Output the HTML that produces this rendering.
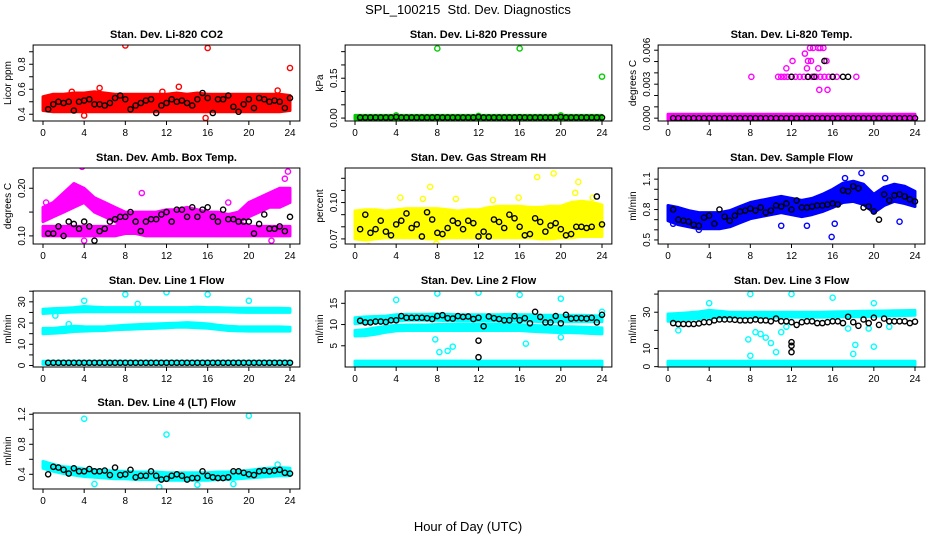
<!DOCTYPE html>
<html><head><meta charset="utf-8">
<style>
html,body{margin:0;padding:0;background:#fff;}
svg{display:block;font-family:"Liberation Sans",Arial,sans-serif;}
</style></head>
<body>
<svg id="chart" width="936" height="540" viewBox="0 0 936 540" xmlns="http://www.w3.org/2000/svg">
<rect x="0" y="0" width="936" height="540" fill="#fff"/>
<text x="468" y="14" font-size="13" text-anchor="middle">SPL_100215&#160; Std. Dev. Diagnostics</text>
<text x="468" y="531" font-size="13" text-anchor="middle">Hour of Day (UTC)</text>
<g id="panels"></g>
</svg>
<script>
// ---- shared data ----
const hourly = [0,1,2,3,4,5,6,7,8,9,10,11,12,13,14,15,16,17,18,19,20,21,22,23,24];
const halfHours = [0.5,1,1.5,2,2.5,3,3.5,4,4.5,5,5.5,6,6.5,7,7.5,8,8.5,9,9.5,10,10.5,11,11.5,12,12.5,13,13.5,14,14.5,15,15.5,16,16.5,17,17.5,18,18.5,19,19.5,20,20.5,21,21.5,22,22.5,23,23.5,24];
const xTicks = [0,4,8,12,16,20,24];

// Panel 1: CO2
const co2Low  = [0.43,0.42,0.42,0.42,0.42,0.42,0.42,0.42,0.42,0.42,0.42,0.42,0.42,0.42,0.42,0.42,0.42,0.42,0.42,0.42,0.42,0.42,0.42,0.42,0.43];
const co2High = [0.54,0.56,0.56,0.57,0.57,0.58,0.57,0.56,0.56,0.56,0.56,0.56,0.56,0.57,0.56,0.57,0.56,0.56,0.56,0.56,0.56,0.56,0.56,0.56,0.55];
const co2OutH = [8,16,24,13.2,5.5,15.8,4,2.8,11.6,22.8];
const co2OutV = [0.95,0.93,0.77,0.62,0.61,0.37,0.39,0.58,0.58,0.59];
const co2Black = [0.44,0.48,0.5,0.49,0.5,0.43,0.5,0.51,0.52,0.48,0.48,0.47,0.49,0.53,0.55,0.52,0.44,0.47,0.49,0.51,0.52,0.41,0.47,0.49,0.52,0.5,0.51,0.49,0.47,0.52,0.57,0.53,0.41,0.52,0.52,0.55,0.46,0.42,0.48,0.52,0.45,0.53,0.52,0.5,0.51,0.5,0.45,0.53];

// Panel 2: Pressure
const presLow  = [-0.004,-0.004,-0.004,-0.004,-0.004,-0.004,-0.004,-0.004,-0.004,-0.004,-0.004,-0.004,-0.004,-0.004,-0.004,-0.004,-0.004,-0.004,-0.004,-0.004,-0.004,-0.004,-0.004,-0.004,-0.004];
const presHigh = [0.01,0.01,0.01,0.01,0.01,0.01,0.01,0.01,0.01,0.01,0.01,0.01,0.01,0.01,0.01,0.01,0.01,0.01,0.01,0.01,0.01,0.01,0.01,0.01,0.01];
const presOutH = [8,16,24,4,12,20];
const presOutV = [0.262,0.262,0.156,0.01,0.008,0.01];
const presBlack = [0.002,0.002,0.002,0.002,0.002,0.002,0.002,0.004,0.002,0.002,0.002,0.002,0.002,0.002,0.002,0.003,0.002,0.002,0.002,0.002,0.002,0.002,0.002,0.004,0.002,0.002,0.002,0.002,0.002,0.002,0.002,0.003,0.002,0.002,0.002,0.002,0.002,0.002,0.002,0.004,0.002,0.002,0.002,0.002,0.002,0.002,0.002,0.002];

// Panel 3: Li-820 Temp
const tempLow  = [-0.00035,-0.00035,-0.00035,-0.00035,-0.00035,-0.00035,-0.00035,-0.00035,-0.00035,-0.00035,-0.00035,-0.00035,-0.00035,-0.00035,-0.00035,-0.00035,-0.00035,-0.00035,-0.00035,-0.00035,-0.00035,-0.00035,-0.00035,-0.00035,-0.00035];
const tempHigh = [0.00035,0.00035,0.00035,0.00035,0.00035,0.00035,0.00035,0.00035,0.00035,0.00035,0.00035,0.00035,0.00035,0.00035,0.00035,0.00035,0.00035,0.00035,0.00035,0.00035,0.00035,0.00035,0.00035,0.00035,0.00035];
const tempOutH = [8.1,10.7,11,11.3,11.6,12,12.4,12.8,13.2,13.6,14,14.4,14.8,15.2,15.6,16,16.4,18.3,11.5,12.1,13.6,13.9,15.4,13.8,14.1,14.6,14.8,15.1,13.3,13.5,14.6,14.7,15.5];
const tempOutV = [0.00365,0.00365,0.00365,0.00365,0.00365,0.00365,0.00365,0.00365,0.00365,0.00365,0.00365,0.00365,0.00365,0.00365,0.00365,0.00365,0.00365,0.00365,0.0044,0.00505,0.00505,0.00505,0.00505,0.0062,0.0062,0.0062,0.0062,0.0062,0.0057,0.0044,0.0044,0.0025,0.0025];
const tempBlackH = [12,13.6,14.2,16,17,17.5,15.2];
const tempBlackV = [0.00365,0.00365,0.00365,0.00365,0.00365,0.00365,0.00505];
const tempBlack = [0,0,0,0,0,0,0,0,0,0,0,0,0,0,0,0,0,0,0,0,0,0,0,0,0,0,0,0,0,0,0,0,0,0,0,0,0,0,0,0,0,0,0,0,0,0,0,0];

// Panel 4: Amb Box Temp
const ambLowA  = [0.13,0.14,0.15,0.16,0.17,0.15,0.14,0.13,0.12,0.12,0.12,0.12,0.12,0.12,0.12,0.12,0.12,0.12,0.12,0.13,0.14,0.15,0.16,0.16,0.17];
const ambHighA = [0.16,0.17,0.19,0.21,0.2,0.18,0.17,0.16,0.15,0.15,0.15,0.15,0.155,0.155,0.16,0.155,0.15,0.15,0.145,0.15,0.17,0.18,0.19,0.2,0.2];
const ambLowB  = [0.10,0.10,0.10,0.10,0.10,0.10,0.10,0.10,0.105,0.105,0.10,0.10,0.10,0.10,0.10,0.10,0.10,0.10,0.10,0.10,0.10,0.10,0.10,0.10,0.10];
const ambHighB = [0.12,0.12,0.12,0.12,0.12,0.12,0.12,0.12,0.13,0.13,0.13,0.13,0.13,0.13,0.13,0.13,0.13,0.13,0.13,0.13,0.12,0.12,0.12,0.12,0.12];
const ambOutH = [3.8,9.6,23.8,4,22.2,0.3,1.8,18,23.5];
const ambOutV = [0.245,0.19,0.235,0.09,0.09,0.17,0.18,0.17,0.22];
const ambBlack = [0.105,0.105,0.12,0.10,0.13,0.125,0.115,0.13,0.12,0.09,0.11,0.115,0.13,0.135,0.14,0.14,0.15,0.13,0.11,0.13,0.135,0.135,0.145,0.15,0.13,0.155,0.155,0.14,0.16,0.14,0.155,0.16,0.14,0.13,0.155,0.135,0.135,0.13,0.13,0.13,0.105,0.125,0.145,0.115,0.115,0.12,0.11,0.14];

// Panel 5: Gas Stream RH
const rhLow  = [0.07,0.069,0.07,0.071,0.071,0.071,0.071,0.07,0.07,0.071,0.071,0.071,0.071,0.071,0.071,0.071,0.071,0.071,0.07,0.07,0.071,0.071,0.072,0.072,0.072];
const rhHigh = [0.093,0.094,0.094,0.093,0.094,0.095,0.095,0.095,0.095,0.094,0.093,0.094,0.094,0.096,0.097,0.097,0.097,0.096,0.096,0.097,0.097,0.1,0.101,0.1,0.098];
const rhOutH = [17.7,19.3,21.7,7.3,7.9,1.3,4.4,6.6,9.8,13.4,15.9,21.4,23.1];
const rhOutV = [0.121,0.124,0.117,0.113,0.066,0.064,0.104,0.103,0.103,0.102,0.104,0.108,0.104];
const rhBlack = [0.078,0.09,0.075,0.078,0.085,0.076,0.073,0.082,0.085,0.091,0.079,0.082,0.072,0.092,0.086,0.075,0.074,0.079,0.085,0.083,0.078,0.085,0.083,0.072,0.076,0.072,0.086,0.084,0.079,0.09,0.087,0.08,0.073,0.074,0.087,0.084,0.076,0.081,0.083,0.078,0.073,0.074,0.08,0.08,0.079,0.08,0.105,0.082];

// Panel 6: Sample Flow
const sfLow  = [0.69,0.65,0.63,0.61,0.61,0.61,0.63,0.67,0.71,0.73,0.75,0.77,0.75,0.73,0.75,0.78,0.82,0.87,0.88,0.85,0.77,0.84,0.88,0.86,0.83];
const sfHigh = [0.84,0.82,0.79,0.77,0.77,0.77,0.79,0.83,0.87,0.89,0.91,0.93,0.91,0.89,0.91,0.95,1.0,1.06,1.08,1.05,0.95,1.02,1.05,1.03,0.98];
const sfOutH = [15.9,18.8,21.1,17.2,3,11,13.5,0.5,16.2,22.5];
const sfOutV = [0.53,1.16,1.11,1.11,0.6,0.64,0.64,0.66,0.66,0.68];
const sfBlack = [0.8,0.7,0.69,0.68,0.65,0.64,0.72,0.74,0.66,0.8,0.73,0.69,0.74,0.78,0.79,0.81,0.79,0.82,0.77,0.79,0.84,0.83,0.86,0.8,0.89,0.82,0.82,0.83,0.84,0.84,0.85,0.86,0.85,0.99,0.98,1.03,1.01,0.82,0.83,0.78,0.7,0.95,0.89,0.94,0.95,0.93,0.9,0.88];

// Panel 7: Line 1 Flow
const l1LowA  = [24.5,24.8,25,25.2,25.3,25.3,25.3,25.3,25.3,25.3,25.3,25.3,25.3,25.3,25.3,25.3,25.3,25.3,25.3,25.1,25,25,25,25,25];
const l1HighA = [26.5,26.8,27,27.3,27.8,27.5,27.3,27.3,27.3,27.3,27.3,27.3,27.3,27.3,27.3,27.5,27.3,27.3,27.1,27,27,27,27,27,26.8];
const l1LowB  = [15,15.2,15.5,16,16.2,16.4,16.5,16.8,17,17.2,17.4,17.6,17.8,18,18,17.8,17.6,17,16.5,16.3,16.2,16.2,16.2,16.2,16.2];
const l1HighB = [17.5,17.5,18,18.5,18.3,18.2,18.3,18.6,19,19.2,19.4,19.6,19.8,20,20.2,20,19.6,19,18.5,18.3,18.2,18.2,18.2,18.2,18];
const l1LowC  = [0.6,0.6,0.6,0.6,0.6,0.6,0.6,0.6,0.6,0.6,0.6,0.6,0.6,0.6,0.6,0.6,0.6,0.6,0.6,0.6,0.6,0.6,0.6,0.6,0.6];
const l1HighC = [2,2,2,2,2,2,2,2,2,2,2,2,2,2,2,2,2,2,2,2,2,2,2,2,2];
const l1OutH = [4,8,12,16,20,9.2,1.2,2.5];
const l1OutV = [30.5,33.5,34.5,33.5,30.5,29,23.5,19.5];
const l1Black = [1.3,1.3,1.3,1.3,1.3,1.3,1.3,1.3,1.3,1.3,1.3,1.3,1.3,1.3,1.3,1.3,1.3,1.3,1.3,1.3,1.3,1.3,1.3,1.3,1.3,1.3,1.3,1.3,1.3,1.3,1.3,1.3,1.3,1.3,1.3,1.3,1.3,1.3,1.3,1.3,1.3,1.3,1.3,1.3,1.3,1.3,1.3,1.3];

// Panel 8: Line 2 Flow
const l2LowA  = [10.2,10.4,10.5,10.6,10.8,11,11,11,11,10.9,10.8,10.8,10.8,10.8,10.8,10.8,10.8,10.8,10.7,10.7,10.7,10.7,10.7,10.7,10.7];
const l2HighA = [11.6,11.8,11.9,12,12.3,12.4,12.4,12.4,12.5,12.4,12.3,12.3,12.3,12.3,12.3,12.4,12.3,12.3,12.2,12.2,12.2,12.2,12.2,12.1,12];
const l2LowB  = [7.3,7.4,7.7,8.2,8.5,8.6,8.6,8.6,8.6,8.6,8.6,8.6,8.6,8.6,8.6,8.6,8.6,8.4,8.3,8.2,8.1,8.1,8,7.9,7.8];
const l2HighB = [8.6,8.8,9.2,9.6,9.8,9.9,9.9,9.9,10,10,10,10,10,10,10,10,10,9.8,9.7,9.6,9.5,9.5,9.4,9.3,9.2];
const l2LowC  = [0.3,0.3,0.3,0.3,0.3,0.3,0.3,0.3,0.3,0.3,0.3,0.3,0.3,0.3,0.3,0.3,0.3,0.3,0.3,0.3,0.3,0.3,0.3,0.3,0.3];
const l2HighC = [1.4,1.4,1.4,1.4,1.4,1.4,1.4,1.4,1.4,1.4,1.4,1.4,1.4,1.4,1.4,1.4,1.4,1.4,1.4,1.4,1.4,1.4,1.4,1.4,1.4];
const l2OutH = [4,8,12,16,20,7.8,8.2,9,9.5,16.6,20,24,12.2];
const l2OutV = [15.8,17.3,17.5,17,16.1,6.5,3.5,3.8,4.8,5.5,7,13,9.6];
const l2BlackH = [12,12];
const l2BlackV = [6.2,2.3];
const l2Black = [10.9,10.5,10.5,10.7,10.7,10.6,11,11,12,11.6,11.6,11.6,11.6,11.5,11.3,12,12.2,11.5,11.4,12,11.8,11.9,11.3,11.6,9.6,11.9,11.5,11.3,11,11,12,11,11.5,10.3,13,11.8,10.5,10.5,12,10.3,12.3,11.4,11.5,11.5,11.4,11.6,10.5,12.3];

// Panel 9: Line 3 Flow
const l3LowA  = [25,25.5,26,26.5,27,27.2,27.3,27.3,27.3,27.3,27.3,27.3,27.3,27.3,27.3,27.3,27.3,27.4,27.5,27.6,27.8,28,28,28.2,28.3];
const l3HighA = [29,29.3,29.7,30.2,31,30.5,30,30,30,30,30,30,30,30,30,30,30.2,30.3,30.4,30.5,30.6,30.7,30.8,30.9,31];
const l3LowC  = [0.8,0.8,0.8,0.8,0.8,0.8,0.8,0.8,0.8,0.8,0.8,0.8,0.8,0.8,0.8,0.8,0.8,0.8,0.8,0.8,0.8,0.8,0.8,0.8,0.8];
const l3HighC = [3,3,3,3,3,3,3,3,3,3,3,3,3,3,3,3,3,3,3,3,3,3,3,3,3];
const l3OutH = [4,8,12,16,20,7.8,8.5,9,9.5,10,10.5,11,11.5,8,18,18.2,20,1,21.5,17.5,19.5];
const l3OutV = [35,40,40,38,35,15,19,18,16,13,8,19,22,6,7,12,11,20,22,21,21];
const l3BlackH = [12,12,12];
const l3BlackV = [8,11.5,13.5];
const l3Black = [24,23.5,23.5,23.5,23.5,23.8,24.5,24.5,25.5,26,26,26,25.8,25.5,25.5,25.5,26,25.5,25.5,25,26.5,25,25,24.5,23,24.5,25,25,24,24,24.5,25,25,24,27.5,24.5,22.5,26,24,27,23,26.5,25,25,25,25,24,24.8];

// Panel 10: Line 4 (LT) Flow
const l4Low  = [0.48,0.44,0.41,0.39,0.37,0.36,0.35,0.34,0.34,0.33,0.33,0.33,0.32,0.32,0.32,0.32,0.32,0.33,0.33,0.34,0.35,0.36,0.37,0.38,0.38];
const l4High = [0.57,0.53,0.5,0.49,0.47,0.46,0.45,0.44,0.44,0.43,0.43,0.43,0.42,0.42,0.42,0.42,0.42,0.43,0.43,0.44,0.45,0.47,0.48,0.49,0.48];
const l4OutH = [4,12,20,11.3,15,5,18.5,22.8];
const l4OutV = [1.14,0.93,1.18,0.23,0.26,0.27,0.27,0.53];
const l4Black = [0.4,0.5,0.49,0.46,0.41,0.48,0.44,0.44,0.47,0.44,0.44,0.45,0.39,0.49,0.39,0.4,0.46,0.36,0.38,0.38,0.44,0.38,0.33,0.34,0.38,0.4,0.38,0.33,0.35,0.35,0.44,0.38,0.36,0.35,0.35,0.36,0.44,0.44,0.42,0.4,0.39,0.44,0.45,0.44,0.45,0.46,0.42,0.41];

// ---- layout ----
const colX0 = [43, 355, 668];
const pxPerHour = 247/24;
const rowTop = [45, 168, 291, 413];
const boxH = 76;

const panels = [
 {name:'co2', title:'Stan. Dev. Li-820 CO2', ylab:'Licor ppm', col:0,row:0, lo:0.346, hi:0.954, color:'#ff0000',
  ticks:[0.4,0.5,0.6,0.7,0.8,0.9], labels:['0.4','','0.6','','0.8',''], bands:[[co2Low,co2High]], outH:co2OutH,outV:co2OutV, black:co2Black},
 {name:'pressure', title:'Stan. Dev. Li-820 Pressure', ylab:'kPa', col:1,row:0, lo:-0.011, hi:0.275, color:'#00cc00',
  ticks:[0,0.05,0.1,0.15,0.2,0.25], labels:['0.00','','','0.15','',''], bands:[[presLow,presHigh]], outH:presOutH,outV:presOutV, black:presBlack},
 {name:'temp', title:'Stan. Dev. Li-820 Temp.', ylab:'degrees C', col:2,row:0, lo:-0.00025, hi:0.00646, color:'#ff00ff',
  ticks:[0,0.001,0.002,0.003,0.004,0.005,0.006], labels:['0.000','','','0.003','','','0.006'], bands:[[tempLow,tempHigh]], outH:tempOutH,outV:tempOutV, black:tempBlack, blackH:tempBlackH, blackV:tempBlackV},
 {name:'amb-box-temp', title:'Stan. Dev. Amb. Box Temp.', ylab:'degrees C', col:0,row:1, lo:0.083, hi:0.2425, color:'#ff00ff',
  ticks:[0.1,0.15,0.2], labels:['0.10','','0.20'], bands:[[ambLowB,ambHighB],[ambLowA,ambHighA]], outH:ambOutH,outV:ambOutV, black:ambBlack},
 {name:'gas-rh', title:'Stan. Dev. Gas Stream RH', ylab:'percent', col:1,row:1, lo:0.0658, hi:0.1285, color:'#ffff00',
  ticks:[0.07,0.08,0.09,0.1,0.11,0.12], labels:['0.07','','','0.10','',''], bands:[[rhLow,rhHigh]], outH:rhOutH,outV:rhOutV, black:rhBlack},
 {name:'sample-flow', title:'Stan. Dev. Sample Flow', ylab:'ml/min', col:2,row:1, lo:0.46, hi:1.21, color:'#0000ff',
  ticks:[0.5,0.6,0.7,0.8,0.9,1.0,1.1], labels:['0.5','','','0.8','','','1.1'], bands:[[sfLow,sfHigh]], outH:sfOutH,outV:sfOutV, black:sfBlack},
 {name:'line1-flow', title:'Stan. Dev. Line 1 Flow', ylab:'ml/min', col:0,row:2, lo:-0.7, hi:35.1, color:'#00ffff',
  ticks:[0,5,10,15,20,25,30,35], labels:['0','','10','','20','','30',''], bands:[[l1LowC,l1HighC],[l1LowB,l1HighB],[l1LowA,l1HighA]], outH:l1OutH,outV:l1OutV, black:l1Black},
 {name:'line2-flow', title:'Stan. Dev. Line 2 Flow', ylab:'ml/min', col:1,row:2, lo:0.0, hi:17.9, color:'#00ffff',
  ticks:[5,10,15], labels:['5','10','15'], bands:[[l2LowC,l2HighC],[l2LowB,l2HighB],[l2LowA,l2HighA]], outH:l2OutH,outV:l2OutV, black:l2Black, blackH:l2BlackH, blackV:l2BlackV},
 {name:'line3-flow', title:'Stan. Dev. Line 3 Flow', ylab:'ml/min', col:2,row:2, lo:-0.2, hi:41.7, color:'#00ffff',
  ticks:[0,10,20,30,40], labels:['0','10','','30',''], bands:[[l3LowC,l3HighC],[l3LowA,l3HighA]], outH:l3OutH,outV:l3OutV, black:l3Black, blackH:l3BlackH, blackV:l3BlackV},
 {name:'line4-flow', title:'Stan. Dev. Line 4 (LT) Flow', ylab:'ml/min', col:0,row:3, lo:0.204, hi:1.217, color:'#00ffff',
  ticks:[0.4,0.6,0.8,1.0,1.2], labels:['0.4','','0.8','','1.2'], bands:[[l4Low,l4High]], outH:l4OutH,outV:l4OutV, black:l4Black}
];

const NS = 'http://www.w3.org/2000/svg';
function mk(tag, attrs, parent){
  const e = document.createElementNS(NS, tag);
  for (const k in attrs) e.setAttribute(k, attrs[k]);
  parent.appendChild(e);
  return e;
}
const root = document.getElementById('panels');

panels.forEach(p => {
  const x0 = colX0[p.col];
  const top = rowTop[p.row];
  const bottom = top + boxH;
  const left = x0 - 0.96*pxPerHour, right = x0 + 24.96*pxPerHour;
  const xs = h => x0 + h*pxPerHour;
  const ys = v => bottom - (v - p.lo)/(p.hi - p.lo)*boxH;

  const g = mk('g', {}, root);
  
  

  const clipId = 'clip-' + p.name;
  const cp = mk('clipPath', {id: clipId}, g);
  mk('rect', {x:left, y:top, width:right-left, height:boxH}, cp);
  const plot = mk('g', {'clip-path':'url(#'+clipId+')'}, g);
  
  

  p.bands.forEach((b, bi) => {
    const lowArr = b[0], highArr = b[1];
    let d = '';
    hourly.forEach((h, i) => { d += (i ? 'L' : 'M') + xs(h).toFixed(1) + ',' + ys(highArr[i]).toFixed(1); });
    for (let i = hourly.length - 1; i >= 0; i--) d += 'L' + xs(hourly[i]).toFixed(1) + ',' + ys(lowArr[i]).toFixed(1);
    d += 'Z';
    const path = mk('path', {d:d, fill:p.color, stroke:p.color, 'stroke-width':3, 'stroke-linejoin':'round'}, plot);
    
    
  });
  p.outH.forEach((h, i) => {
    const c = mk('circle', {cx:xs(h), cy:ys(p.outV[i]), r:2.6, fill:'none', stroke:p.color, 'stroke-width':1.4}, plot);
    
    
  });
  p.black.forEach((v, i) => {
    const c = mk('circle', {cx:xs(halfHours[i]), cy:ys(v), r:2.6, fill:'none', stroke:'#000', 'stroke-width':1.4}, plot);
    
    
  });
  if (p.blackH) p.blackH.forEach((h, i) => {
    const c = mk('circle', {cx:xs(h), cy:ys(p.blackV[i]), r:2.6, fill:'none', stroke:'#000', 'stroke-width':1.4}, plot);
    
    
  });

  const box = mk('rect', {x:left, y:top, width:right-left, height:boxH, fill:'none', stroke:'#000', 'stroke-width':1}, g);
  
  

  const t = mk('text', {x:(left+right)/2, y:top-7, 'font-size':11, 'font-weight':'bold', 'text-anchor':'middle'}, g);
  t.textContent = p.title;
  
  

  xTicks.forEach(h => {
    mk('line', {x1:xs(h), x2:xs(h), y1:bottom, y2:bottom+4, stroke:'#000'}, g);
    const lt = mk('text', {x:xs(h), y:bottom+15, 'font-size':10, 'text-anchor':'middle'}, g);
    lt.textContent = String(h);
    
    
  });
  p.ticks.forEach((v, i) => {
    const y = ys(v);
    mk('line', {x1:left-4, x2:left, y1:y, y2:y, stroke:'#000'}, g);
    if (p.labels[i]) {
      const lt = mk('text', {x:0, y:0, 'font-size':10, 'text-anchor':'middle', transform:'translate('+(left-8)+','+y+') rotate(-90)'}, g);
      lt.textContent = p.labels[i];
      
      
    }
  });
  const yl = mk('text', {x:0, y:0, 'font-size':10, 'text-anchor':'middle', transform:'translate('+(left-22)+','+(top+boxH/2)+') rotate(-90)'}, g);
  yl.textContent = p.ylab;
  
  
});
</script>
</body></html>
